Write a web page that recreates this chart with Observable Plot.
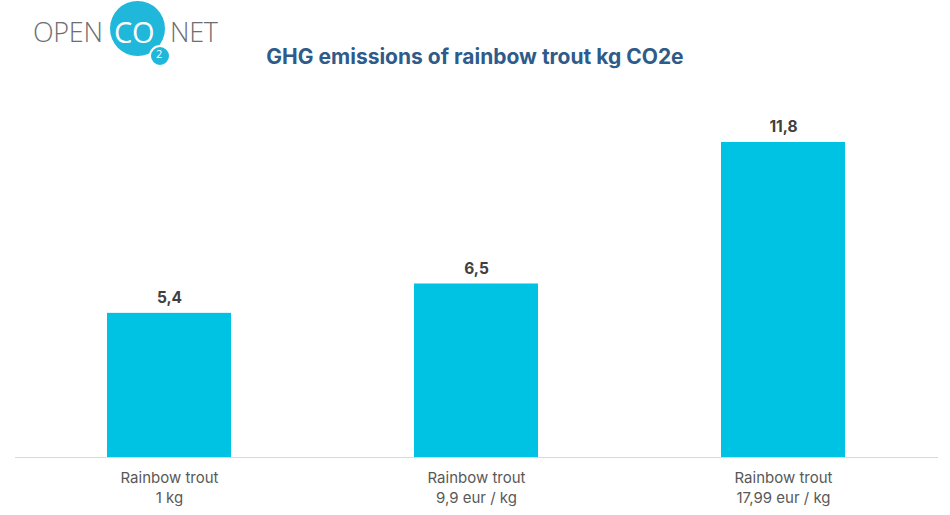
<!DOCTYPE html>
<html>
<head>
<meta charset="utf-8">
<script src="https://cdn.jsdelivr.net/npm/d3@7"></script>
<script src="https://cdn.jsdelivr.net/npm/@observablehq/plot@0.6"></script>
<style>
  html, body { margin: 0; padding: 0; background: #fff; }
  #wrap { position: relative; width: 950px; height: 515px; overflow: hidden; font-family: Inter, "Noto Sans", sans-serif; }
  #logo { position: absolute; left: 0; top: 0; width: 240px; height: 70px; }
  .lg-txt { position: absolute; font-family: "Open Sans", "Noto Sans", sans-serif; font-weight: 300; font-size: 27px; color: #6d6e71; line-height: 1; letter-spacing: -0.3px; }
  .circle { position: absolute; border-radius: 50%; background: #1fb8db; }
  #title { position: absolute; left: 0; width: 950px; top: 44px; text-align: center; font-family: Inter, "Noto Sans", sans-serif; font-weight: 700; font-size: 21px; color: #2f5b8a; }
  #chart { position: absolute; left: 0; top: 80px; }
</style>
</head>
<body>
<div id="wrap">
  <div id="logo">
    <div class="lg-txt" style="left:33px; top:18px;">OPEN</div>
    <div class="circle" style="left:110px; top:1px; width:55px; height:55px;"></div>
    <div class="lg-txt" style="left:114px; top:17px; color:#fff; font-weight:400; font-size:29px;">CO</div>
    <div class="circle" style="left:149px; top:45px; width:18px; height:18px; border:2px solid #fff;"></div>
    <div style="position:absolute; left:156px; top:47px; color:#fff; font-family:'Open Sans',sans-serif; font-size:11px; line-height:14px;">2</div>
    <div class="lg-txt" style="left:170px; top:18px;">NET</div>
  </div>
  <div id="title">GHG emissions of rainbow trout kg CO2e</div>
  <div id="chart"></div>
</div>
<script>
const categories = ["Rainbow trout\n1 kg", "Rainbow trout\n9,9 eur / kg", "Rainbow trout\n17,99 eur / kg"];
const values = [5.4, 6.5, 11.8];
const valueLabels = ["5,4", "6,5", "11,8"];

const data = categories.map((c, i) => ({cat: c, value: values[i], label: valueLabels[i]}));

const chart = Plot.plot({
  width: 950,
  height: 435,
  marginLeft: 15,
  marginRight: 12,
  marginTop: 62,
  marginBottom: 58,
  style: {fontFamily: "Inter, 'Noto Sans', sans-serif", background: "transparent"},
  x: {domain: categories, paddingInner: 0.595, paddingOuter: 0.3, axis: null},
  y: {domain: [0, 11.8], axis: null},
  marks: [
    Plot.barY(data, {x: "cat", y: "value", fill: "#00c3e3"}),
    Plot.ruleY([0], {stroke: "#d9d9d9", strokeWidth: 1}),
    Plot.text(data, {x: "cat", y: "value", text: "label", dy: -15, fontWeight: 700, fontSize: 15.5, fill: "#404040"}),
    Plot.text(data, {x: "cat", y: 0, text: "cat", dy: 12, lineAnchor: "top", lineHeight: 1.3, fontSize: 15, fill: "#595959"})
  ]
});
document.getElementById("chart").appendChild(chart);
</script>
</body>
</html>
